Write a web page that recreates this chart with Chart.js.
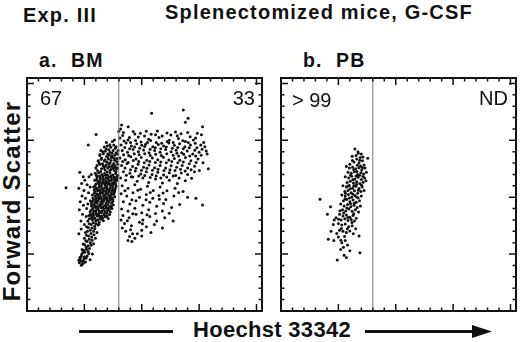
<!DOCTYPE html>
<html>
<head>
<meta charset="utf-8">
<script src="https://cdn.jsdelivr.net/npm/chart.js@4.4.1/dist/chart.umd.min.js"></script>
<style>
  body { margin:0; background:#fff; }
  #page { position:relative; width:520px; height:342px; overflow:hidden;
          font-family:"Liberation Sans", Arial, Helvetica, sans-serif; color:#111; }
  .t { position:absolute; white-space:pre; line-height:20px; }
  .b { font-weight:bold; letter-spacing:1.2px; }
  .n { font-size:20px; }
  .panel { position:absolute; }
</style>
</head>
<body>
<div id="page">
  <div class="t b" style="left:23px; top:5px; font-size:20px;">Exp. III</div>
  <div class="t b" style="left:165px; top:2px; font-size:20px;">Splenectomized mice, G-CSF</div>
  <div class="t b" style="left:39px; top:50px; font-size:19.5px;">a.  BM</div>
  <div class="t b" style="left:303px; top:50px; font-size:19.5px;">b.  PB</div>
  <div class="t b" style="left:-98px; top:189px; width:220px; text-align:center; font-size:24px; line-height:24px; transform:rotate(-90deg);">Forward Scatter</div>
  <div class="t b" style="left:193px; top:320px; font-size:22px; letter-spacing:0.3px;">Hoechst 33342</div>

  <div class="panel" style="left:20px; top:70px;"><canvas id="bmChart" width="250" height="250"></canvas></div>
  <div class="panel" style="left:274px; top:70px;"><canvas id="pbChart" width="246" height="250"></canvas></div>

  <div class="t n" style="left:40px; top:88px;">67</div>
  <div class="t n" style="right:265px; top:88px;">33</div>
  <div class="t n" style="left:292px; top:90px;">&gt; 99</div>
  <div class="t n" style="right:12px; top:88px;">ND</div>

  <svg style="position:absolute; left:0; top:0;" width="520" height="342">
    <line x1="79" y1="331.5" x2="173" y2="331.5" stroke="#111" stroke-width="3"/>
    <line x1="365" y1="331.5" x2="476" y2="331.5" stroke="#111" stroke-width="3"/>
    <polygon points="472,325 492,331.5 472,338" fill="#111"/>
  </svg>
</div>

<script>
// axis range of both cytograms (channel units) and tick layout
const axisMax = 1024;
const majorTicks = [0, 250, 500, 750, 1000];
const minorTicks = [50,100,150,200,300,350,400,450,550,600,650,700,800,850,900,950];
const gateValue = 400;

// a. BM  [Hoechst, forward scatter]
const bmPoints = [
  // dense core left of the gate
  [330,700],[345,712],[362,698],[375,705],[352,690],[388,695],[318,688],[370,680],[365,720],[378,730],[350,725],[385,715],[395,690],
  [325,672],[340,665],[355,668],[368,675],[382,662],[392,670],[310,660],[348,655],[362,650],[378,648],
  [305,640],[318,645],[332,638],[345,642],[358,635],[372,640],[385,632],[395,645],[300,628],[325,625],[340,620],[352,628],[366,622],[380,618],[390,625],
  [298,605],[312,608],[326,600],[338,604],[350,598],[362,606],[374,598],[386,604],[396,596],[305,590],[318,585],[330,592],[344,586],[356,590],[368,584],[380,588],[392,582],
  [295,575],[308,570],[320,576],[332,568],[345,572],[356,566],[368,574],[380,566],[390,572],[300,558],[315,555],[328,560],[340,554],[352,558],[364,552],[376,556],[388,548],
  [290,545],[302,540],[314,544],[326,538],[338,542],[350,536],[362,540],[374,534],[385,538],[296,525],[308,528],[320,522],[332,526],[344,520],[356,524],[368,518],[380,522],
  [285,510],[298,505],[310,508],[322,502],[334,506],[346,500],[358,504],[370,498],[382,502],[290,490],[302,486],[314,492],[326,485],[338,490],[350,484],[362,488],[374,482],
  [280,472],[292,468],[304,474],[316,466],[328,470],[340,464],[352,468],[364,462],[376,466],[286,452],[298,456],[310,450],[322,455],[334,448],[346,452],[358,446],[370,450],
  [275,435],[288,430],[300,436],[312,428],[324,432],[336,426],[348,430],[360,424],[282,415],[294,410],[306,418],[318,412],[330,408],[342,414],[354,406],
  [317,683],[333,691],[347,679],[359,686],[371,693],[383,684],[341,702],[356,709],[323,667],[337,659],[351,677],[366,661],[379,671],[391,657],[314,651],[329,647],
  [343,637],[357,647],[369,633],[381,641],[393,629],[307,617],[321,613],[336,631],[349,611],[361,617],[376,627],[388,613],[302,597],[316,593],[331,583],[342,597],
  [353,581],[367,593],[379,579],[391,591],[304,579],[319,566],[334,577],[346,563],[359,573],[372,561],[384,577],[297,551],[311,561],[324,549],[337,563],[348,547],
  [361,557],[373,545],[386,559],[293,533],[306,535],[318,531],[331,533],[343,529],[357,531],[369,527],[382,529],[294,517],[305,515],[317,513],[329,517],[341,511],
  [353,513],[366,509],[378,513],[287,497],[301,495],[312,499],[325,493],[337,497],[349,493],[361,495],[373,491],[284,481],[296,479],[309,483],[321,477],[333,481],
  [345,475],[357,479],[369,473],[281,461],[294,463],[306,459],[319,461],[331,457],[343,459],[355,455],[367,457],[279,443],[291,441],[303,445],[315,439],[327,441],
  [339,437],[351,441],[363,435],[277,424],[289,421],[301,425],[313,421],[325,417],[337,421],[349,417],
  [337,721],[361,731],[372,745],[388,722],[397,705],[346,741],[381,752],[322,705],
  // tail running down to the left
  [270,420],[285,400],[300,395],[315,390],[265,395],[280,380],[295,372],[310,378],[260,370],[275,355],[290,350],[305,345],[255,345],[268,330],[282,325],[298,320],
  [250,320],[262,305],[276,300],[290,296],[245,295],[258,280],[272,275],[240,270],[252,258],[266,262],[238,248],[250,238],[262,242],[232,228],[244,220],[228,212],
  [240,205],[255,215],[275,225],[285,250],[230,235],
  [272,405],[283,409],[296,405],[308,401],[321,403],[333,397],[289,388],[301,383],[313,381],[271,383],[283,365],[296,361],[267,367],[279,341],[292,335],[263,351],
  [271,315],[284,311],[259,333],[256,309],[266,287],[279,289],[251,291],[247,267],[259,271],[269,253],[243,257],[236,239],[248,229],[258,233],[234,219],[226,223],
  [246,211],[237,201],
  // loose cells left of the core
  [230,610],[245,590],[238,560],[252,575],[226,540],[248,530],[262,555],[270,590],[240,505],[255,495],[268,520],[232,480],[246,465],[260,450],[276,485],
  [228,445],[242,425],[258,415],[235,395],[250,380],[236,360],[226,340],[280,600],[275,545],[265,470],
  // cloud right of the gate, upper band
  [420,785],[470,778],[520,790],[560,775],[610,782],[655,770],[700,785],[735,760],[760,775],
  [405,760],[440,752],[485,765],[530,755],[575,762],[620,750],[660,758],[690,745],[725,752],[770,740],
  [410,730],[432,738],[455,725],[478,735],[500,728],[525,740],[548,722],[572,732],[595,725],[618,738],[642,728],[665,735],[688,722],[712,730],[740,718],[775,722],
  [415,705],[438,698],[462,710],[485,700],[508,708],[532,695],[556,705],[580,698],[604,710],[628,700],[650,706],[674,695],[698,703],[722,690],[750,698],[785,690],
  [405,672],[428,665],[452,678],[475,668],[498,675],[522,662],[546,672],[570,665],[594,676],[618,664],[642,670],[666,662],[690,675],[714,660],[745,668],
  [412,640],[436,648],[460,635],[484,645],[508,632],[532,642],[556,630],[580,640],[604,628],[628,638],[652,632],[676,640],[700,628],[730,636],[790,625],
  [420,612],[448,605],[472,615],[496,602],[520,612],[545,600],[570,610],[595,598],[620,608],[648,596],[672,606],[700,600],[730,612],
  [417,771],[446,763],[463,789],[494,781],[512,769],[541,777],[568,791],[589,769],[627,773],[647,787],[671,779],[711,766],[742,781],
  [423,747],[451,741],[473,749],[497,743],[517,733],[539,749],[563,741],[587,737],[611,745],[637,741],[657,719],[679,748],[703,741],[733,737],[757,729],
  [426,719],[447,713],[469,721],[491,715],[513,723],[537,711],[559,717],[583,713],[607,721],[633,715],[653,693],[681,713],[707,717],[731,707],[763,711],
  [421,687],[443,683],[467,691],[489,687],[513,691],[537,683],[561,689],[585,683],[609,691],[637,685],[661,681],[683,689],[709,681],[735,681],[759,685],[781,703],
  [417,657],[441,653],[463,661],[487,657],[511,651],[535,657],[559,653],[583,655],[607,651],[631,657],[657,651],[681,655],[707,647],[737,653],[767,651],
  [427,629],[451,621],[475,627],[499,619],[523,627],[547,619],[571,623],[597,617],[623,621],[645,617],[669,623],[689,615],[715,621],[751,617],
  // middle of the right cloud
  [408,585],[430,575],[455,590],[480,570],[505,585],[530,565],[560,580],[590,562],[620,575],[655,560],[690,572],
  [415,550],[440,540],[470,555],[495,535],[525,548],[550,530],[580,545],[610,528],[645,540],[680,525],
  [410,515],[435,505],[462,520],[490,500],[520,512],[548,495],[575,508],[605,490],[640,505],[700,500],[736,495],
  [420,480],[448,470],[475,485],[505,465],[535,478],[565,460],[595,472],[630,455],[665,468],[765,466],
  [412,448],[440,440],[470,452],[500,432],[530,445],[560,428],[590,440],
  [433,597],[461,589],[487,593],[513,595],[537,587],[563,593],[583,585],[609,589],[637,593],[663,585],[717,583],
  [427,529],[483,531],[537,521],[593,519],[661,521],
  [457,489],[519,489],[577,491],
  // lower part of the right cloud
  [418,420],[445,410],[475,425],[505,400],[535,415],[565,395],[600,410],[620,430],
  [425,385],[455,375],[490,390],[520,370],[555,380],[590,365],[637,395],
  [430,350],[460,340],[500,355],[540,345],[470,320],[440,310],[500,330],[415,365],[410,400],
  [461,427],[523,423],[437,397],[503,383],[451,357],[447,327],[481,339],[457,305],
  // outliers
  [170,542],[267,729],[301,776],[412,817],[441,810],[543,869],[681,883],[702,847],[690,830],[765,810],[400,790],[408,800]
];

// b. PB  [Hoechst, forward scatter]
const pbPoints = [
  [322,712],[335,700],[350,690],[378,671],[310,680],[330,668],[345,675],[318,655],[340,650],[355,660],[300,645],[362,642],
  [285,635],[298,628],[312,632],[326,625],[340,630],[352,620],[366,628],[292,610],[306,605],[320,612],[334,600],[348,608],[360,602],[372,610],
  [280,590],[295,585],[308,592],[322,580],[336,588],[350,578],[364,585],[288,565],[302,570],[316,562],[330,568],[344,560],[358,566],[370,572],
  [270,550],[285,545],[298,552],[312,540],[326,548],[340,538],[354,545],[278,525],[292,530],[306,520],[320,528],[334,518],[348,525],[362,530],
  [265,510],[280,505],[294,512],[308,500],[322,508],[336,498],[350,505],[272,485],[286,490],[300,480],[314,488],[328,478],[342,485],[170,491],
  [260,470],[275,462],[290,468],[304,458],[318,465],[332,455],[346,462],[216,458],[268,445],[282,440],[296,448],[310,438],[324,445],[338,435],
  [255,425],[270,418],[285,422],[300,412],[314,420],[328,408],[202,425],[240,410],[262,400],[278,405],[292,398],[306,402],[320,395],[232,400],
  [250,385],[265,378],[280,382],[295,370],[310,375],[325,362],[255,355],[270,350],[285,345],[300,352],[315,340],[340,330],
  [206,315],[230,310],[250,325],[265,300],[280,310],[290,290],[272,280],[260,270],[245,224],[344,256],[300,265],[275,245],[285,235],[228,380],[218,350],
  [337,693],[327,683],[343,663],[357,677],[311,661],[333,641],[347,637],[317,621],[331,613],[355,631],[303,597],[327,593],[343,597],[357,591],[313,577],[329,557],
  [351,553],[291,549],[317,551],[337,531],[301,537],[281,517],[313,513],[329,501],[297,497],[279,493],[319,473],[287,453],[303,471],[257,441],[273,431],[317,427],
  [291,411],[251,403],[309,389],[263,363],[289,361],[243,341],[277,327],[261,311]
];

/* inward ticks, gate line and frame */
const cytoFrame = {
  id: "cytoFrame",
  afterDatasetsDraw(chart) {
    const { ctx, chartArea: a, scales: { x, y } } = chart;
    ctx.save();

    const gx = x.getPixelForValue(gateValue);
    ctx.strokeStyle = "#777";
    ctx.lineWidth = 1;
    ctx.beginPath();
    ctx.moveTo(gx, a.top);
    ctx.lineTo(gx, a.bottom);
    ctx.stroke();

    ctx.strokeStyle = "#111";
    ctx.lineWidth = 1.5;
    const tick = (v, len) => {
      const px = x.getPixelForValue(v);
      const py = y.getPixelForValue(v);
      ctx.beginPath();
      ctx.moveTo(px, a.bottom); ctx.lineTo(px, a.bottom - len);
      ctx.moveTo(px, a.top); ctx.lineTo(px, a.top + len);
      ctx.moveTo(a.left, py); ctx.lineTo(a.left + len, py);
      ctx.moveTo(a.right, py); ctx.lineTo(a.right - len, py);
      ctx.stroke();
    };
    majorTicks.forEach(v => tick(v, 7));
    minorTicks.forEach(v => tick(v, 3.5));

    ctx.lineWidth = 2;
    ctx.strokeRect(a.left, a.top, a.right - a.left, a.bottom - a.top);
    ctx.restore();
  }
};

function cytogram(id, points, padding) {
  return new Chart(document.getElementById(id), {
    type: "scatter",
    data: {
      datasets: [{
        data: points.map(p => ({ x: p[0], y: p[1] })),
        backgroundColor: "#111",
        borderWidth: 0,
        pointRadius: 1.5
      }]
    },
    options: {
      responsive: false,
      animation: false,
      layout: { padding },
      plugins: { legend: { display: false }, tooltip: { enabled: false } },
      scales: {
        x: { type: "linear", min: 0, max: axisMax, display: false },
        y: { type: "linear", min: 0, max: axisMax, display: false }
      }
    },
    plugins: [cytoFrame]
  });
}

cytogram("bmChart", bmPoints, { left: 7, top: 8, right: 8, bottom: 9 });
cytogram("pbChart", pbPoints, { left: 7, top: 8, right: 4, bottom: 9 });
</script>
</body>
</html>
